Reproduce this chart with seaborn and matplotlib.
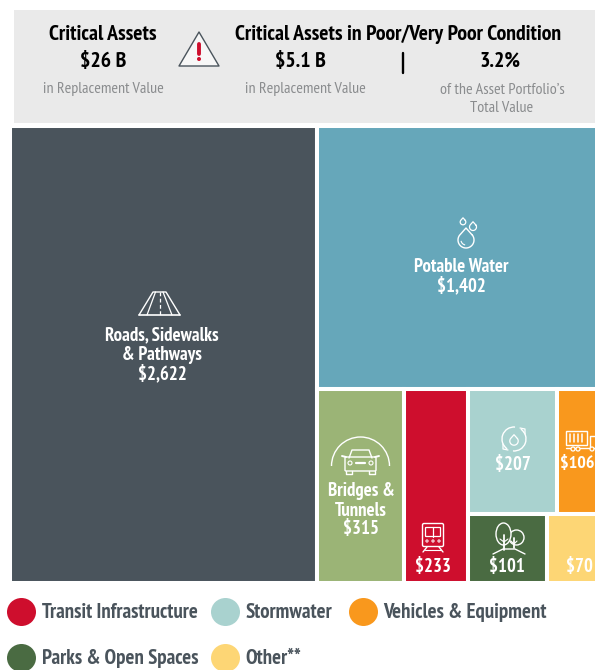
import numpy as np
import matplotlib
matplotlib.use('Agg')
import matplotlib.pyplot as plt
from matplotlib.patches import Ellipse, Circle, Polygon, Rectangle, Arc, FancyBboxPatch
import seaborn as sns

# values in $M
roads = 2622
water = 1402
bridges = 315
transit = 233
storm = 207
vehicles = 106
parks = 101
other = 70

colors = {'roads': '#4A545C', 'water': '#66A7BA', 'bridges': '#9BB476', 'transit': '#CE0E2D',
          'storm': '#A9D2CF', 'vehicles': '#F9981D', 'parks': '#4A6B42', 'other': '#FDD675'}

legend_names = ['Transit Infrastructure', 'Stormwater', 'Vehicles & Equipment', 'Parks & Open Spaces', 'Other**']
legend_keys = ['transit', 'storm', 'vehicles', 'parks', 'other']

sns.set_theme(style='white')
plt.rcParams['font.family'] = ['PT Sans Narrow', 'Open Sans Condensed', 'Roboto Condensed', 'Liberation Sans']

fig = plt.figure(figsize=(5.95, 6.70), dpi=100)
ax = fig.add_axes([0, 0, 1, 1])
ax.set_xlim(0, 595)
ax.set_ylim(670, 0)
ax.axis('off')


def cut_x(box, vals):
    x, y, w, h = box
    out = []
    for v in vals:
        dw = w * v / sum(vals)
        out.append((x, y, dw, h))
        x += dw
    return out


def cut_y(box, vals):
    x, y, w, h = box
    out = []
    for v in vals:
        dh = h * v / sum(vals)
        out.append((x, y, w, dh))
        y += dh
    return out


def cell(box, key):
    ax.bar(box[0], box[3], width=box[2], bottom=box[1], align='edge', color=colors[key],
           edgecolor='white', linewidth=2.9, zorder=1)


# treemap: the picture is cut off on the right side
whole = (10, 125.5, 592, 457.5)
rest = [water, bridges, transit, storm, vehicles, parks, other]
b_roads, b_rest = cut_x(whole, [roads, sum(rest)])
b_water, b_low = cut_y(b_rest, [water, sum(rest[1:])])
b_bridges, b_transit, b_small = cut_x(b_low, [bridges, transit, storm + vehicles + parks + other])
b_up, b_down = cut_y(b_small, [storm + vehicles, parks + other])
b_storm, b_veh = cut_x(b_up, [storm, vehicles])
b_parks, b_other = cut_x(b_down, [parks, other])
for b, k in [(b_roads, 'roads'), (b_water, 'water'), (b_bridges, 'bridges'), (b_transit, 'transit'),
             (b_storm, 'storm'), (b_veh, 'vehicles'), (b_parks, 'parks'), (b_other, 'other')]:
    cell(b, k)

# header panel
ax.bar(14, 113, width=590, bottom=10, align='edge', color='#EAEAEA', linewidth=0, zorder=1)


def txt(x, y, s, size=13.5, color='white', weight='bold'):
    ax.text(x, y + 1.5, s, fontsize=size, color=color, fontweight=weight, ha='center', va='center', zorder=5)


def ln(xs, ys, lw=1.0, c='white', **kw):
    ax.plot(xs, ys, color=c, lw=lw, zorder=4, solid_capstyle='round', **kw)


def drop(cx, cy, r, lw=1.0, c='white'):
    t = np.linspace(-0.2 * np.pi, 1.2 * np.pi, 40)
    xs = list(cx + r * np.cos(t)) + [cx, cx + r * np.cos(t[0])]
    ys = list(cy + r * np.sin(t)) + [cy - 1.5 * r, cy + r * np.sin(t[0])]
    ln(xs, ys, lw, c)


dark = 'black'
grey = '#8A8C8E'
title_size = 15.7
txt(103, 33, 'Critical Assets', title_size, dark)
txt(103, 60, '$26 B', title_size, dark)
txt(103, 88, 'in Replacement Value', 11.5, grey, 'normal')
txt(398, 33, 'Critical Assets in Poor/Very Poor Condition', title_size, dark)
txt(300, 60, '$5.1 B', title_size, dark)
txt(500, 60, '3.2%', title_size, dark)
ln([403, 403], [53, 73], 1.7, dark)
txt(305, 88, 'in Replacement Value', 11.5, grey, 'normal')
txt(502, 88, "of the Asset Portfolio\u2019s", 11.5, grey, 'normal')
txt(502, 107, 'Total Value', 11.5, grey, 'normal')

# warning icon
ax.add_patch(Polygon([[199, 32], [219, 66], [179, 66]], closed=True, fc='#F7F7F7', ec='#4A545C', lw=1.0,
                     joinstyle='round', zorder=3))
ln([199, 199], [44, 54], 2.8, '#CE0E2D')
ax.add_patch(Circle((199, 59), 2, fc='#CE0E2D', ec='none', zorder=4))

# cell labels
txt(162, 334, 'Roads, Sidewalks')
txt(162, 353, '& Pathways')
txt(162, 372, '$2,622')
txt(461, 265, 'Potable Water')
txt(461, 284, '$1,402')
txt(361, 490, 'Bridges &')
txt(361, 509, 'Tunnels')
txt(361, 528, '$315')
txt(433, 566, '$233')
txt(513, 463, '$207')
txt(577.5, 463, '$106', 13)
txt(507, 566, '$101')
txt(579, 566, '$70')

# road icon
ln([139, 180], [315, 315], 1.2)
ln([139, 153, 166, 180], [315, 292, 292, 315], 1.0)
ln([147, 155.5], [315, 292], 0.9)
ln([172, 163], [315, 292], 0.9)
ax.plot([159.5, 159.5], [292, 315], color='white', lw=0.9, ls=(0, (3, 2)), zorder=4)

# water icon
drop(466, 240, 8, 1.0)
drop(463, 222, 2.8, 0.9)
drop(473, 227, 3.5, 0.9)
ax.add_patch(Arc((466, 240), 10, 10, theta1=100, theta2=170, ec='white', lw=0.8, zorder=4))

# bridge + car icon
ax.add_patch(Arc((360.5, 466), 58, 58, theta1=180, theta2=360, ec='white', lw=1.0, zorder=4))
ax.add_patch(FancyBboxPatch((346, 458), 29, 12, boxstyle='round,pad=1', fc='none', ec='white', lw=1.0, zorder=4))
ln([349, 352, 369, 372], [458, 450, 450, 458], 1.0)
ln([342, 346], [456, 457], 1.4)
ln([375, 379], [457, 456], 1.4)
ln([346, 346, 352, 352], [471, 474, 474, 471], 1.0)
ln([369, 369, 375, 375], [471, 474, 474, 471], 1.0)
ax.add_patch(Circle((350, 463), 2, fc='none', ec='white', lw=0.8, zorder=4))
ax.add_patch(Circle((371, 463), 2, fc='none', ec='white', lw=0.8, zorder=4))
ln([356, 365], [463, 463], 1.6)

# train icon
ax.add_patch(FancyBboxPatch((424, 525), 18, 20, boxstyle='round,pad=1.5', fc='none', ec='white', lw=1.0, zorder=4))
ax.add_patch(FancyBboxPatch((426, 528), 14, 8, boxstyle='round,pad=0.5', fc='none', ec='white', lw=0.9, zorder=4))
ln([433, 433], [527, 537], 0.9)
for xv in [427, 433, 439]:
    ax.add_patch(Circle((xv, 541), 1.1, fc='none', ec='white', lw=0.7, zorder=4))
ln([427, 423], [547, 552], 1.0)
ln([439, 443], [547, 552], 1.0)
ln([425, 441], [549.5, 549.5], 0.8)

# stormwater icon
ax.add_patch(Arc((514, 439), 24, 24, theta1=-55, theta2=95, ec='white', lw=1.0, zorder=4))
ax.add_patch(Arc((514, 439), 24, 24, theta1=125, theta2=275, ec='white', lw=1.0, zorder=4))
ln([520, 525, 525], [428, 429, 434], 0.9)
ln([508, 503, 503], [450, 449, 444], 0.9)
drop(514, 441, 4.2, 0.9)

# truck icon
ax.add_patch(Rectangle((566, 431), 21, 14, fc='none', ec='white', lw=1.0, zorder=4))
for xv in [570, 574, 578, 582]:
    ln([xv, xv], [434, 442], 1.1)
ln([590, 590, 596], [448, 436, 436], 1.0)
ln([566, 596], [448, 448], 1.0)
for xv in [573, 578, 592]:
    ax.add_patch(Circle((xv, 449), 2, fc=colors['vehicles'], ec='white', lw=0.9, zorder=5))

# trees icon
ax.add_patch(Circle((516.5, 537.5), 7.5, fc=colors['parks'], ec='white', lw=1.0, zorder=3))
ax.add_patch(Ellipse((503.5, 534), 15, 22, fc=colors['parks'], ec='white', lw=1.0, zorder=3))
ln([504, 504], [535, 550], 1.3)
ln([514, 514], [538, 548], 1.3)
ln([500, 504, 508], [539, 542, 539], 0.8)
ln([511, 514, 517], [541, 544, 541], 0.8)
ln([493, 503, 515, 525], [554, 549, 549, 554], 1.0)

# legend
legend_pos = [(21.5, 612), (225.5, 612), (363.5, 612), (21.5, 658), (225.5, 658)]
for name, key, (x, y) in zip(legend_names, legend_keys, legend_pos):
    ax.add_patch(Ellipse((x, y), 29, 28, fc=colors[key], ec='none', zorder=3))
    ax.text(x + 20, y + 1, name, fontsize=15, fontweight='bold', color='#4A545C', ha='left', va='center', zorder=5)

fig.savefig('out.png', dpi=100)
